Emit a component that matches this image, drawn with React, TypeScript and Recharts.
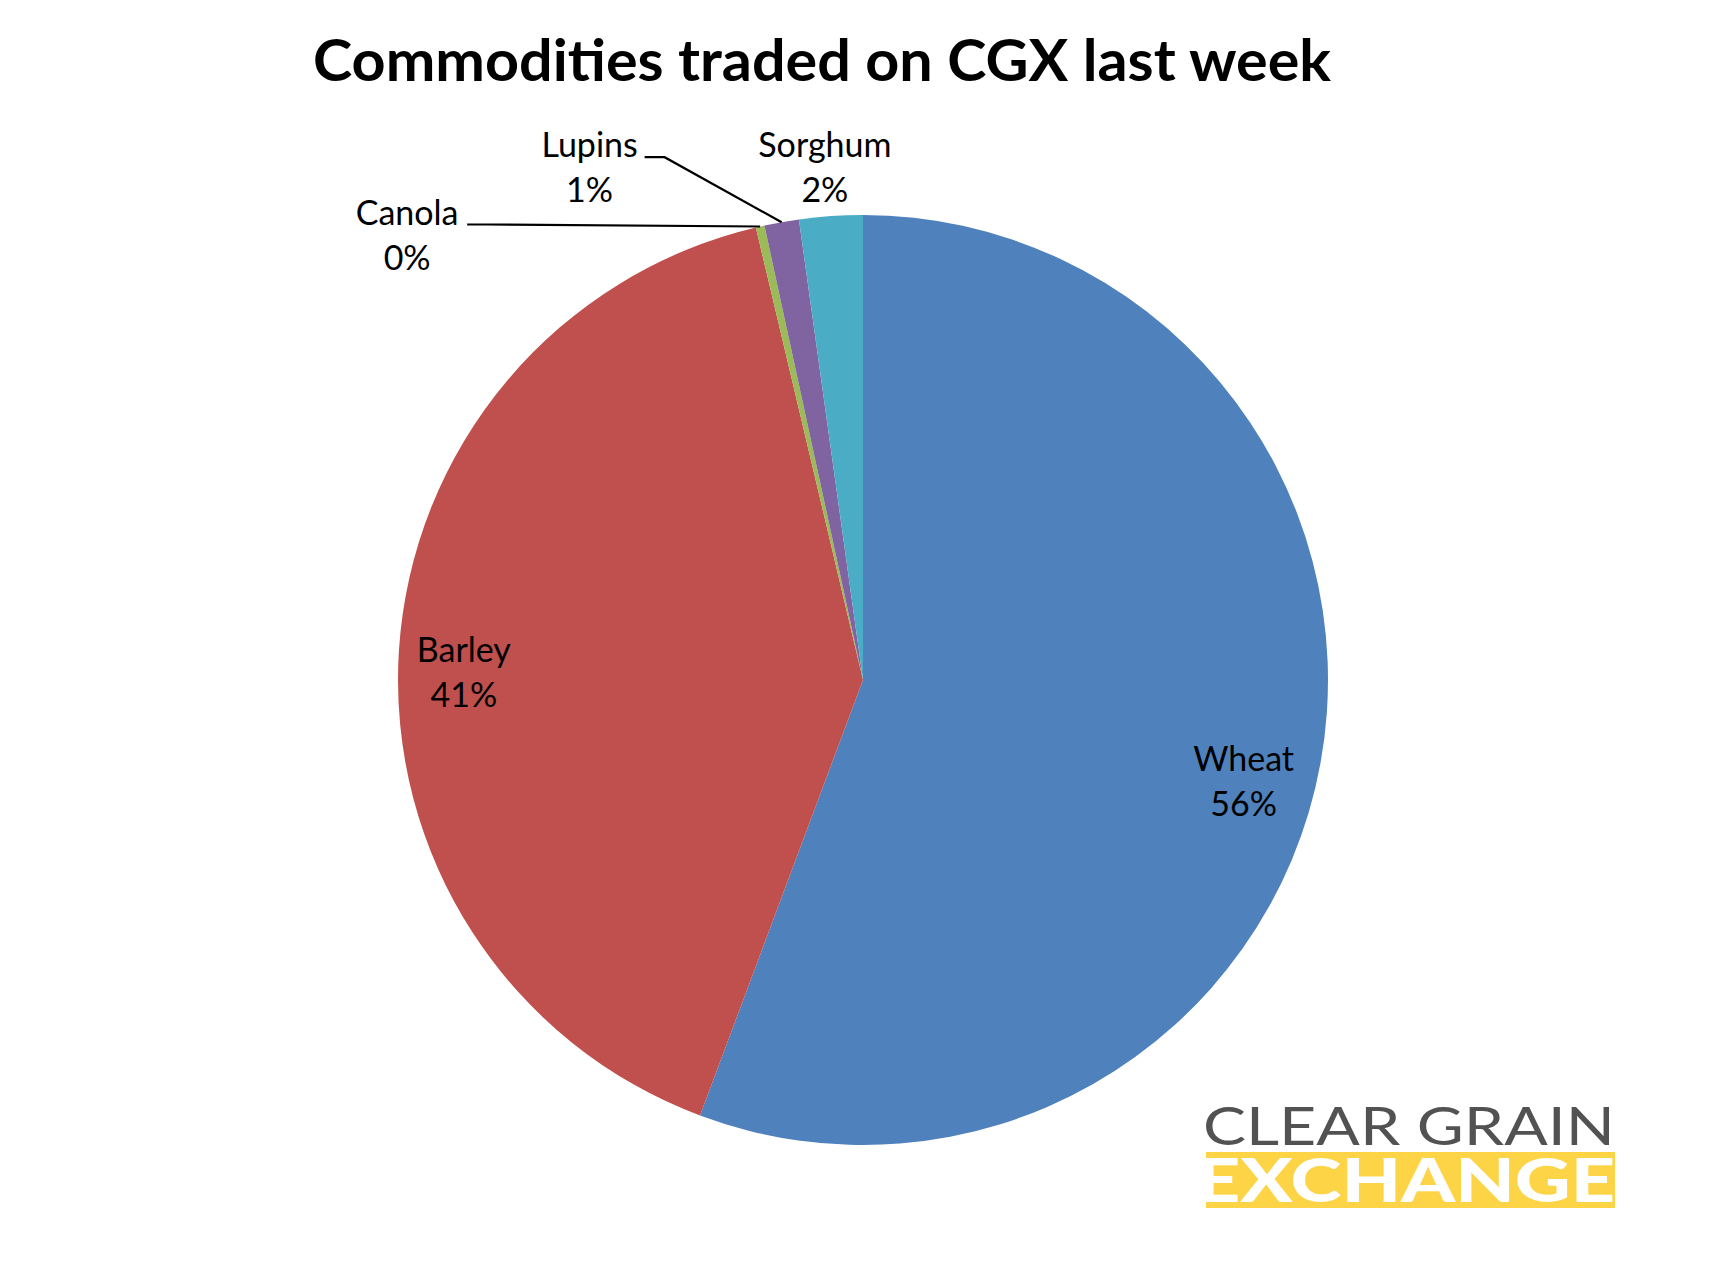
import React from 'react'
import { PieChart, Pie, Cell } from 'recharts'

// ── data ──
const COMMODITIES = ['Wheat', 'Barley', 'Canola', 'Lupins', 'Sorghum']
const SHARES = [55.7, 40.6, 0.3, 1.2, 2.2]
const COLORS = ['#4F81BD', '#C0504D', '#9BBB59', '#8064A2', '#4BACC6']

const TITLE = 'Commodities traded on CGX last week'

// label placement (Excel-like): inside labels get a small nudge, small slices sit outside
const INSIDE_NUDGE: Record<string, { dx: number; dy: number }> = {
    Wheat: { dx: -6, dy: 31 },
    Barley: { dx: -7, dy: 17 },
}
const OUTSIDE: Record<string, { dx: number; dy: number; halfWidth: number; leader: boolean }> = {
    Canola: { dx: -353, dy: 8, halfWidth: 52, leader: true },
    Lupins: { dx: -192, dy: -55, halfWidth: 47, leader: true },
    Sorghum: { dx: -6, dy: -49, halfWidth: 0, leader: false },
}

const FONT = "Lato, 'Open Sans', sans-serif"
const LABEL_SIZE = 34
const RADIAN = Math.PI / 180

const data = COMMODITIES.map((name, i) => ({ name, value: SHARES[i] }))

function TwoLine({ x, y, name, pct }: { x: number; y: number; name: string; pct: string }) {
    return (
        <>
            <text x={x} y={y - 10} textAnchor="middle" fontFamily={FONT} fontSize={LABEL_SIZE} fill="#000">{name}</text>
            <text x={x} y={y + 35} textAnchor="middle" fontFamily={FONT} fontSize={LABEL_SIZE} fill="#000">{pct}</text>
        </>
    )
}

function renderLabel(props: any) {
    const { cx, cy, midAngle, outerRadius, percent, name } = props
    const cos = Math.cos(-midAngle * RADIAN)
    const sin = Math.sin(-midAngle * RADIAN)
    const pct = `${Math.round(percent * 100)}%`
    const out = OUTSIDE[name]

    if (!out) {
        const r = outerRadius * 0.845
        const nudge = INSIDE_NUDGE[name] || { dx: 0, dy: 0 }
        return (
            <g key={name}>
                <TwoLine x={cx + r * cos + nudge.dx} y={cy + r * sin + nudge.dy} name={name} pct={pct} />
            </g>
        )
    }

    const ox = cx + outerRadius * cos
    const oy = cy + outerRadius * sin
    const lx = ox + out.dx
    const ly = oy + out.dy
    const sx = lx + out.halfWidth + 8
    const lineY = ly - 10
    return (
        <g key={name}>
            {out.leader && (
                <polyline
                    points={`${sx},${lineY} ${sx + 20},${lineY} ${ox},${oy}`}
                    fill="none" stroke="#000" strokeWidth={2.2}
                />
            )}
            <TwoLine x={lx} y={ly} name={name} pct={pct} />
        </g>
    )
}

export default function App() {
    return (
        <div style={{ position: 'absolute', left: 0, top: 0, width: 1716, height: 1288, background: '#fff' }}>
            <PieChart width={1716} height={1288}>
                <Pie
                    data={data}
                    dataKey="value"
                    nameKey="name"
                    cx={858}
                    cy={675}
                    outerRadius={465}
                    startAngle={90}
                    endAngle={-270}
                    stroke="none"
                    label={renderLabel}
                    labelLine={false}
                    isAnimationActive={false}
                >
                    {data.map((d, i) => (
                        <Cell key={d.name} fill={COLORS[i]} />
                    ))}
                </Pie>
            </PieChart>

            {/* title + logo */}
            <svg width={1716} height={1288} style={{ position: 'absolute', left: 0, top: 0, pointerEvents: 'none' }}>
                <text x={313} y={81} fontFamily={FONT} fontWeight={700} fontSize={57} fill="#000"
                    textLength={1018} lengthAdjust="spacingAndGlyphs">{TITLE}</text>

                <text x={1203} y={1145} fontFamily={FONT} fontWeight={400} fontSize={52} fill="#525252"
                    textLength={412} lengthAdjust="spacingAndGlyphs">CLEAR GRAIN</text>
                <defs>
                    <clipPath id="band">
                        <rect x={1206} y={1152} width={409} height={56} />
                    </clipPath>
                </defs>
                <rect x={1206} y={1152} width={409} height={56} fill="#FDD445" />
                <g clipPath="url(#band)">
                    <text x={1196} y={1202} fontFamily={FONT} fontWeight={900} fontSize={61} fill="#fff"
                        textLength={419} lengthAdjust="spacingAndGlyphs">EXCHANGE</text>
                </g>
            </svg>
        </div>
    )
}
